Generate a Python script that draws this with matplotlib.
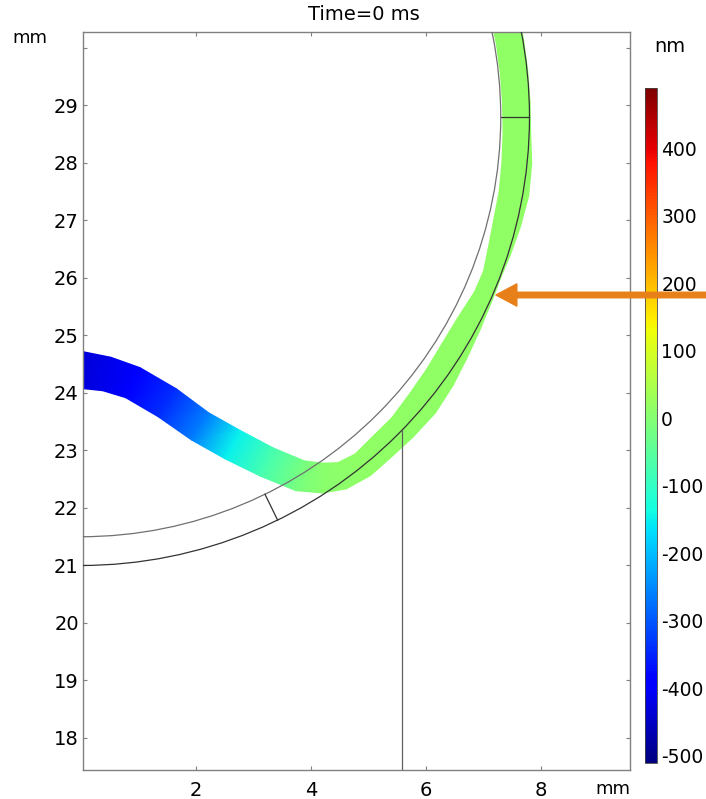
import numpy as np
import matplotlib
matplotlib.use("Agg")
import matplotlib.pyplot as plt
from matplotlib.patches import Circle, FancyArrowPatch
from matplotlib.colors import Normalize
from matplotlib.cm import ScalarMappable

plt.rcParams["axes.unicode_minus"] = False

# ring geometry (mm)
ring_center = (0.0, 28.8)
r_inner = 7.3
r_outer = 7.8
cut_angles = [0.0, -64.0]      # radial cut lines, degrees
probe_x = 5.58                 # vertical line from bottom up to the outer ring

# displacement band: centre line (mm), half width (mm), value (nm)
band_x = [0.00, 0.45, 0.90, 1.50, 2.07, 2.64, 3.23, 3.81, 4.20,
          4.54, 4.90, 5.20, 5.59, 5.94, 6.24, 6.50, 6.75, 7.00, 7.15,
          7.27, 7.41, 7.53, 7.58, 7.58, 7.57, 7.53, 7.46, 7.35]
band_y = [24.40, 24.33, 24.18, 23.83, 23.42, 23.10, 22.80, 22.56, 22.52,
          22.56, 22.75, 23.03, 23.40, 23.82, 24.27, 24.74, 25.21, 25.69, 26.06,
          26.44, 26.95, 27.47, 28.00, 28.54, 29.06, 29.59, 30.11, 30.63]
band_hw = [0.32, 0.30, 0.29, 0.29, 0.28, 0.28, 0.27, 0.27, 0.26,
           0.24, 0.23, 0.24, 0.25, 0.28, 0.27, 0.25, 0.22, 0.17, 0.16,
           0.20, 0.24, 0.26, 0.26, 0.24, 0.24, 0.24, 0.24, 0.24]
band_val = [-430, -415, -390, -340, -262, -150, -75, -15, 5,
            12, 15, 15, 16, 15, 15, 14, 15, 15, 15,
            16, 15, 15, 15, 15, 15, 15, 15, 15]

y_ticks = [18, 19, 20, 21, 22, 23, 24, 25, 26, 27, 28, 29, 30]
x_ticks = [2, 4, 6, 8]
cbar_ticks = [-500, -400, -300, -200, -100, 0, 100, 200, 300, 400]
cbar_min, cbar_max = -511, 489

W, H = 706, 799
fig = plt.figure(figsize=(W / 100, H / 100), dpi=100)
ax = fig.add_axes([83 / W, 29 / H, 547 / W, 738 / H])

# band as a gouraud shaded strip
cx = np.array(band_x)
cy = np.array(band_y)
hw = np.array(band_hw)
tx = np.gradient(cx)
ty = np.gradient(cy)
nrm = np.hypot(tx, ty)
nx, ny = -ty / nrm, tx / nrm
px = np.concatenate([cx + nx * hw, cx - nx * hw])
py = np.concatenate([cy + ny * hw, cy - ny * hw])
vals = np.concatenate([band_val, band_val]).astype(float)
n = len(cx)
tris = []
for i in range(n - 1):
    tris.append([i, n + i, i + 1])
    tris.append([n + i, n + i + 1, i + 1])
norm = Normalize(cbar_min, cbar_max)
ax.tripcolor(px, py, tris, vals, shading="gouraud", cmap="jet", norm=norm, zorder=1)

# ring lines
x0, y0 = ring_center
ax.add_patch(Circle(ring_center, r_inner, fill=False, ec="#707070", lw=0.9, zorder=3))
ax.add_patch(Circle(ring_center, r_outer, fill=False, ec="#333333", lw=0.9, zorder=3))
for a in cut_angles:
    t = np.deg2rad(a)
    ax.plot([x0 + r_inner * np.cos(t), x0 + r_outer * np.cos(t)],
            [y0 + r_inner * np.sin(t), y0 + r_outer * np.sin(t)],
            color="#333333", lw=0.9, zorder=3)
y_top = y0 - np.sqrt(r_outer ** 2 - (probe_x - x0) ** 2)
ax.plot([probe_x, probe_x], [10, y_top], color="#606060", lw=0.9, zorder=3)

ax.set_xlim(0.035, 0.035 + 547 / 57.5)
ax.set_ylim(17.443, 17.443 + 738 / 57.5)
ax.set_xticks(x_ticks)
ax.set_xticklabels([str(v) for v in x_ticks])
ax.set_yticks(y_ticks)
ax.set_yticklabels([str(v) if v != 30 else "" for v in y_ticks])
ax.tick_params(direction="in", length=3, width=0.8, color="#808080",
               top=True, right=True, labelsize=14)
ax.tick_params(axis="x", pad=8)
ax.tick_params(axis="y", pad=3)
for s in ax.spines.values():
    s.set_color("#808080")
    s.set_linewidth(1.0)

# colour bar
cax = fig.add_axes([645 / W, 36 / H, 12 / W, 675 / H])
cb = fig.colorbar(ScalarMappable(norm=norm, cmap="jet"), cax=cax, ticks=cbar_ticks)
cb.ax.tick_params(length=0, pad=3, labelsize=13.5)
cb.outline.set_linewidth(0.6)
cb.outline.set_edgecolor("#444444")

fig.text(364 / W, 1 - 15 / H, "Time=0 ms", ha="center", va="center", fontsize=14)
fig.text(30 / W, 1 - 38 / H, "mm", ha="center", va="center", fontsize=13)
fig.text(613 / W, 1 - 789 / H, "mm", ha="center", va="center", fontsize=13)
fig.text(670 / W, 1 - 46 / H, "nm", ha="center", va="center", fontsize=14)

# orange pointer arrow
fig.add_artist(FancyArrowPatch((1.0, 1 - 295 / H), (496 / W, 1 - 295 / H),
                               transform=fig.transFigure,
                               arrowstyle="simple,head_length=15,head_width=16,tail_width=4",
                               mutation_scale=1, color="#e8801a", shrinkA=0, shrinkB=0,
                               zorder=5))

fig.savefig("out.png", dpi=100)
